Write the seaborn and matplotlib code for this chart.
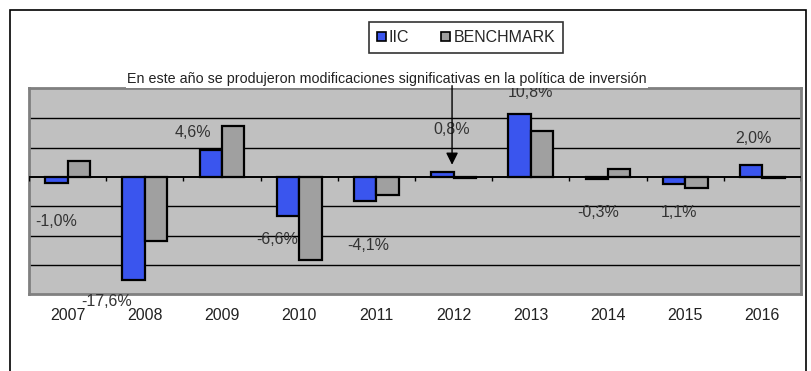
import numpy as np
import pandas as pd
import matplotlib
matplotlib.use('Agg')
import matplotlib.pyplot as plt
from matplotlib.patches import Rectangle, Patch
import seaborn as sns

# datos
years = ['2007', '2008', '2009', '2010', '2011', '2012', '2013', '2014', '2015', '2016']
iic = [-1.0, -17.6, 4.6, -6.6, -4.1, 0.8, 10.8, -0.3, -1.1, 2.0]
benchmark = [2.8, -10.9, 8.8, -14.1, -3.0, -0.2, 7.9, 1.4, -1.9, -0.2]
series_names = ['IIC', 'BENCHMARK']
label_texts = ['-1,0%', '-17,6%', '4,6%', '-6,6%', '-4,1%', '0,8%', '10,8%', '-0,3%', '1,1%', '2,0%']
# posiciones de las etiquetas (x en categorías, y en %)
label_x = [-0.15, 0.5, 1.62, 2.71, 3.89, 4.98, 5.99, 6.87, 7.92, 8.89]
label_y = [-7.5, -21.2, 7.6, -10.7, -11.7, 8.2, 14.5, -6.0, -6.0, 6.5]
note = 'En este año se produjeron modificaciones significativas en la política de inversión'

df = pd.DataFrame({
    'year': years * 2,
    'value': iic + benchmark,
    'serie': [series_names[0]] * len(years) + [series_names[1]] * len(years),
})

sns.set_style('white')
plt.rcParams['font.family'] = ['Liberation Sans', 'DejaVu Sans']

colors = {'IIC': '#3a55ee', 'BENCHMARK': '#a0a0a0'}

W, H = 811, 371
fig = plt.figure(figsize=(W / 100, H / 100), dpi=100)
ax = fig.add_axes([29 / W, 1 - 294.3 / H, 772 / W, (294.3 - 88) / H])
ax.set_facecolor('#c0c0c0')

sns.barplot(data=df, x='year', y='value', hue='serie', order=years,
            hue_order=series_names, palette=colors, width=0.58, dodge=True,
            edgecolor='black', linewidth=1.6, saturation=1, ax=ax, zorder=3)
if ax.get_legend() is not None:
    ax.get_legend().remove()

ax.set_ylim(-20, 15.2)
ax.set_xlim(-0.5, len(years) - 0.5)
for g in [-15, -10, -5, 5, 10]:
    ax.axhline(g, color='black', lw=1, zorder=1)
ax.axhline(0, color='black', lw=1.4, zorder=4)
ax.vlines(np.arange(-0.5, len(years)), 0, -0.7, color='black', lw=1, zorder=4)

ax.set_yticks([])
ax.set_xlabel('')
ax.set_ylabel('')
ax.tick_params(axis='x', length=0, pad=10, labelsize=11.5, labelcolor='#222222')
for s in ax.spines.values():
    s.set_color('#808080')
    s.set_linewidth(2)

# etiquetas de datos
for x, y, t in zip(label_x, label_y, label_texts):
    ax.text(x, y, t, ha='center', va='center', fontsize=11.5, color='#333333',
            clip_on=False, zorder=5)

# nota y flecha
ax.text(4.14, 16.7, note, ha='center', va='center', fontsize=10.3, color='#222222',
        clip_on=False, zorder=6,
        bbox=dict(facecolor='white', edgecolor='none', pad=1))
ax.annotate('', xy=(4.98, 2.1), xytext=(4.98, 15.6),
            arrowprops=dict(arrowstyle='-|>', color='black', lw=1,
                            mutation_scale=18, shrinkA=0, shrinkB=0),
            annotation_clip=False, zorder=7)

# leyenda
handles = [Patch(facecolor=colors[n], edgecolor='black', linewidth=1.2) for n in series_names]
fig.legend(handles, series_names, loc='center', bbox_to_anchor=(466 / W, 1 - 37.5 / H),
           ncol=2, frameon=True, fancybox=False, edgecolor='black', fontsize=11.5,
           handlelength=0.55, handleheight=0.55, handletextpad=0.2, columnspacing=2.0,
           borderpad=0.5)
fig.legends[0].get_frame().set_linewidth(1.2)

# marco exterior
fig.patches.append(Rectangle((10 / W, -0.05), 796 / W, 1.05 - 10 / H,
                             transform=fig.transFigure, fill=False,
                             edgecolor='black', lw=1.2))

fig.savefig('out.png', dpi=100)
